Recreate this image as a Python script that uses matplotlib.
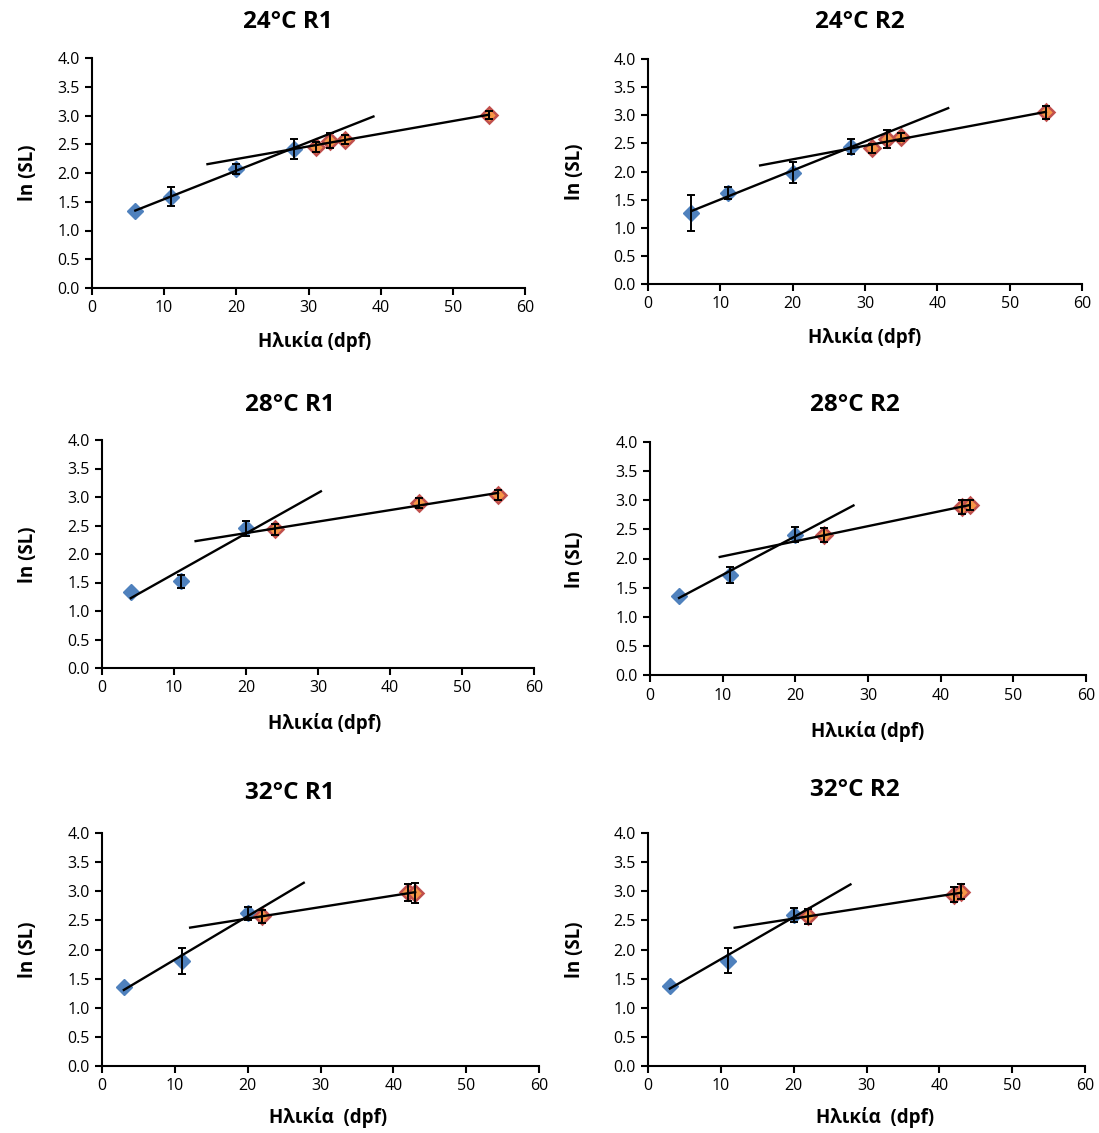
import numpy as np
import matplotlib
matplotlib.use("Agg")
import matplotlib.pyplot as plt

plt.rcParams["font.family"] = ["Open Sans", "Noto Sans", "DejaVu Sans"]

W, H = 1099, 1133

# ---- DATA ----
titles = ["24°C R1", "24°C R2", "28°C R1", "28°C R2", "32°C R1", "32°C R2"]
xlabels = ["Ηλικία (dpf)", "Ηλικία (dpf)", "Ηλικία (dpf)", "Ηλικία (dpf)",
           "Ηλικία  (dpf)", "Ηλικία  (dpf)"]

blue_x = [[6, 11, 20, 28], [6, 11, 20, 28], [4, 11, 20],
          [4, 11, 20], [3, 11, 20], [3, 11, 20]]
blue_y = [[1.34, 1.59, 2.07, 2.42], [1.26, 1.62, 1.98, 2.44], [1.34, 1.52, 2.45],
          [1.36, 1.72, 2.41], [1.36, 1.80, 2.62], [1.38, 1.81, 2.60]]
blue_e = [[0.0, 0.17, 0.09, 0.17], [0.32, 0.11, 0.19, 0.13], [0.0, 0.12, 0.13],
          [0.0, 0.14, 0.13], [0.0, 0.22, 0.11], [0.0, 0.22, 0.12]]

orange_x = [[31, 33, 35, 55], [31, 33, 35, 55], [24, 44, 55],
            [24, 43, 44], [22, 42, 43], [22, 42, 43]]
orange_y = [[2.45, 2.56, 2.58, 3.01], [2.41, 2.57, 2.62, 3.05], [2.43, 2.90, 3.04],
            [2.40, 2.89, 2.92], [2.57, 2.98, 2.97], [2.57, 2.94, 2.99]]
orange_e = [[0.09, 0.13, 0.08, 0.07], [0.08, 0.16, 0.07, 0.11], [0.10, 0.09, 0.09],
            [0.12, 0.12, 0.09], [0.11, 0.15, 0.17], [0.13, 0.13, 0.13]]

# x range covered by each trendline (Excel forecast)
blue_trend = [(6, 39), (6, 41.5), (4, 30.4), (4, 28), (3, 27.7), (3, 27.8)]
orange_trend = [(16, 55), (15.5, 55), (13, 55), (9.6, 44), (12.1, 43), (11.9, 43)]

yticks = [0.0, 0.5, 1.0, 1.5, 2.0, 2.5, 3.0, 3.5, 4.0]
xticks = [0, 10, 20, 30, 40, 50, 60]

# ---- LAYOUT (pixels) ----
boxes = [(92, 525, 58, 288), (648, 1082, 59, 284),
         (102, 534, 440, 668), (650, 1086, 442, 675),
         (102, 539, 833, 1066), (648, 1085, 833, 1066)]
title_pos = [(288, 22), (860, 22), (290, 405), (855, 405), (290, 793), (855, 790)]
xlab_pos = [(315, 341), (865, 337), (325, 723), (868, 731), (328, 1118), (875, 1118)]
ylab_pos = [(28, 173), (575, 172), (28, 555), (575, 560), (28, 950), (575, 950)]

BLUE = "#4F81BD"
ORANGE = "#F79646"
RED = "#C0504D"

fig = plt.figure(figsize=(W / 100, H / 100), dpi=100)


def fx(px):
    return px / W


def fy(py):
    return 1 - py / H


def err_bars(ax, xs, ys, es):
    pts = [(x, y, e) for x, y, e in zip(xs, ys, es) if e > 0]
    if not pts:
        return
    x, y, e = zip(*pts)
    ax.errorbar(x, y, yerr=e, fmt="none", ecolor="black",
                elinewidth=1.4, capsize=3, capthick=1.4, zorder=3)


for i in range(6):
    l, r, t, b = boxes[i]
    ax = fig.add_axes([fx(l), fy(b), fx(r) - fx(l), (b - t) / H])

    err_bars(ax, blue_x[i], blue_y[i], blue_e[i])
    err_bars(ax, orange_x[i], orange_y[i], orange_e[i])
    ax.plot(blue_x[i], blue_y[i], "D", color=BLUE, markersize=8.5,
            markeredgecolor=BLUE, zorder=2)
    ax.plot(orange_x[i], orange_y[i], "D", color=ORANGE, markersize=8,
            markeredgecolor=RED, markeredgewidth=1.8, zorder=2)

    # linear trendlines
    k, c = np.polyfit(blue_x[i], blue_y[i], 1)
    tx = np.array(blue_trend[i])
    ax.plot(tx, k * tx + c, color="black", linewidth=1.7, zorder=4)
    k, c = np.polyfit(orange_x[i], orange_y[i], 1)
    tx = np.array(orange_trend[i])
    ax.plot(tx, k * tx + c, color="black", linewidth=1.7, zorder=4)

    ax.set_xlim(0, 60)
    ax.set_ylim(0, 4.0)
    ax.set_xticks(xticks)
    ax.set_yticks(yticks)
    ax.set_yticklabels([f"{v:.1f}" for v in yticks])
    ax.spines["top"].set_visible(False)
    ax.spines["right"].set_visible(False)
    ax.spines["left"].set_linewidth(1.5)
    ax.spines["bottom"].set_linewidth(1.5)
    ax.tick_params(direction="out", length=5, width=1.5, labelsize=11.5, pad=4)
    for art in ax.lines:
        art.set_clip_on(False)

    fig.text(fx(title_pos[i][0]), fy(title_pos[i][1]), titles[i], ha="center",
             va="center", fontsize=17.5, fontweight="bold")
    fig.text(fx(xlab_pos[i][0]), fy(xlab_pos[i][1]), xlabels[i], ha="center",
             va="center", fontsize=13.5, fontweight="bold")
    fig.text(fx(ylab_pos[i][0]), fy(ylab_pos[i][1]), "ln (SL)", ha="center",
             va="center", fontsize=13.5, fontweight="bold", rotation=90)

fig.savefig("out.png", dpi=100)
